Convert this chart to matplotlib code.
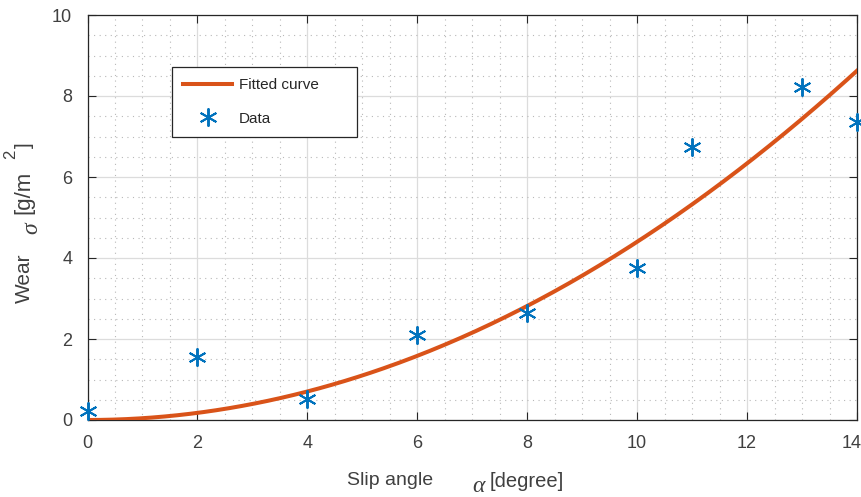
import numpy as np
import matplotlib
matplotlib.use("Agg")
import matplotlib.pyplot as plt
import matplotlib.transforms as mtransforms
from matplotlib.ticker import MultipleLocator

# measured wear at each slip angle
slip_angle = [0, 2, 4, 6, 8, 10, 11, 13, 14]
wear = [0.22, 1.55, 0.52, 2.10, 2.63, 3.75, 6.75, 8.22, 7.35]

# fitted curve: wear = fit_coeffs[0] * alpha^2 + fit_coeffs[1] * alpha + fit_coeffs[2]
fit_coeffs = [0.044, 0.0, 0.0]

x_ticks = [0, 2, 4, 6, 8, 10, 12, 14]
y_ticks = [0, 2, 4, 6, 8, 10]

BLUE = "#0072BD"
ORANGE = "#D95319"
TEXT = "#404040"
W, H = 862, 497

plt.rcParams["font.family"] = ["Liberation Sans", "DejaVu Sans"]

fig = plt.figure(figsize=(W / 100, H / 100), dpi=100)
ax = fig.add_axes([87.5 / W, 1 - 420 / H, (857 - 87.5) / W, (420 - 15) / H])

alpha_fine = np.linspace(slip_angle[0], slip_angle[-1], 300)
ax.plot(alpha_fine, np.polyval(fit_coeffs, alpha_fine), color=ORANGE, lw=2.9,
        label="Fitted curve", zorder=3)
ax.plot(slip_angle, wear, ls="none", marker=(6, 2, 0), ms=13, mew=1.4,
        color=BLUE, label="Data", zorder=4, clip_on=False)

ax.set_xlim(0, 14)
ax.set_ylim(0, 10)
ax.set_xticks(x_ticks)
ax.set_yticks(y_ticks)
ax.xaxis.set_minor_locator(MultipleLocator(0.5))
ax.yaxis.set_minor_locator(MultipleLocator(0.5))
ax.grid(True, which="major", color="#dcdcdc", lw=0.9)
ax.grid(True, which="minor", color="#b8b8b8", lw=0.8, ls=(0, (1, 4)))
ax.set_axisbelow(True)

ax.tick_params(which="major", direction="in", length=6, width=0.8, color="#262626",
               top=True, right=True, labelsize=13, labelcolor=TEXT)
ax.tick_params(axis="y", which="major", pad=11)
ax.tick_params(axis="x", which="major", pad=11)
ax.tick_params(which="minor", length=0)
for sp in ax.spines.values():
    sp.set_color("#262626")
    sp.set_linewidth(0.9)

# nudge the last x tick label left so it stays inside the figure
fig.canvas.draw()
last = ax.get_xticklabels()[-1]
last.set_transform(last.get_transform()
                   + mtransforms.ScaledTranslation(-5 / 100, 0, fig.dpi_scale_trans))

leg = ax.legend(loc="upper left", bbox_to_anchor=(0.1098, 0.5, 0.2404, 0.3716),
                mode="expand", borderaxespad=0, fontsize=11, handlelength=3.2,
                handletextpad=0.45, borderpad=0.75, labelspacing=1.25, fancybox=False,
                framealpha=1, edgecolor="#262626")
leg.get_frame().set_linewidth(0.9)
for t in leg.get_texts():
    t.set_color("#262626")


def fig_text(px, py, s, **kw):
    fig.text(px / W, 1 - py / H, s, color=TEXT, rotation_mode="anchor", **kw)


# x axis label pieces
fig_text(347, 485, "Slip angle", fontsize=14, ha="left", va="baseline")
fig_text(472, 492, "α", fontsize=17, family="Liberation Serif", style="italic",
         ha="left", va="baseline")
fig_text(490, 487, "[degree]", fontsize=14.5, ha="left", va="baseline")

# y axis label pieces (rotated)
fig_text(30, 303, "Wear", fontsize=15, rotation=90, ha="left", va="baseline")
fig_text(37, 234, "σ", fontsize=17, family="Liberation Serif", style="italic",
         rotation=90, ha="left", va="baseline")
fig_text(29, 214, "[g/m", fontsize=16, rotation=90, ha="left", va="baseline")
fig_text(15, 159, "2", fontsize=12, rotation=90, ha="left", va="baseline")
fig_text(30, 148, "]", fontsize=15, rotation=90, ha="left", va="baseline")

fig.savefig("out.png", dpi=100, facecolor="white")
